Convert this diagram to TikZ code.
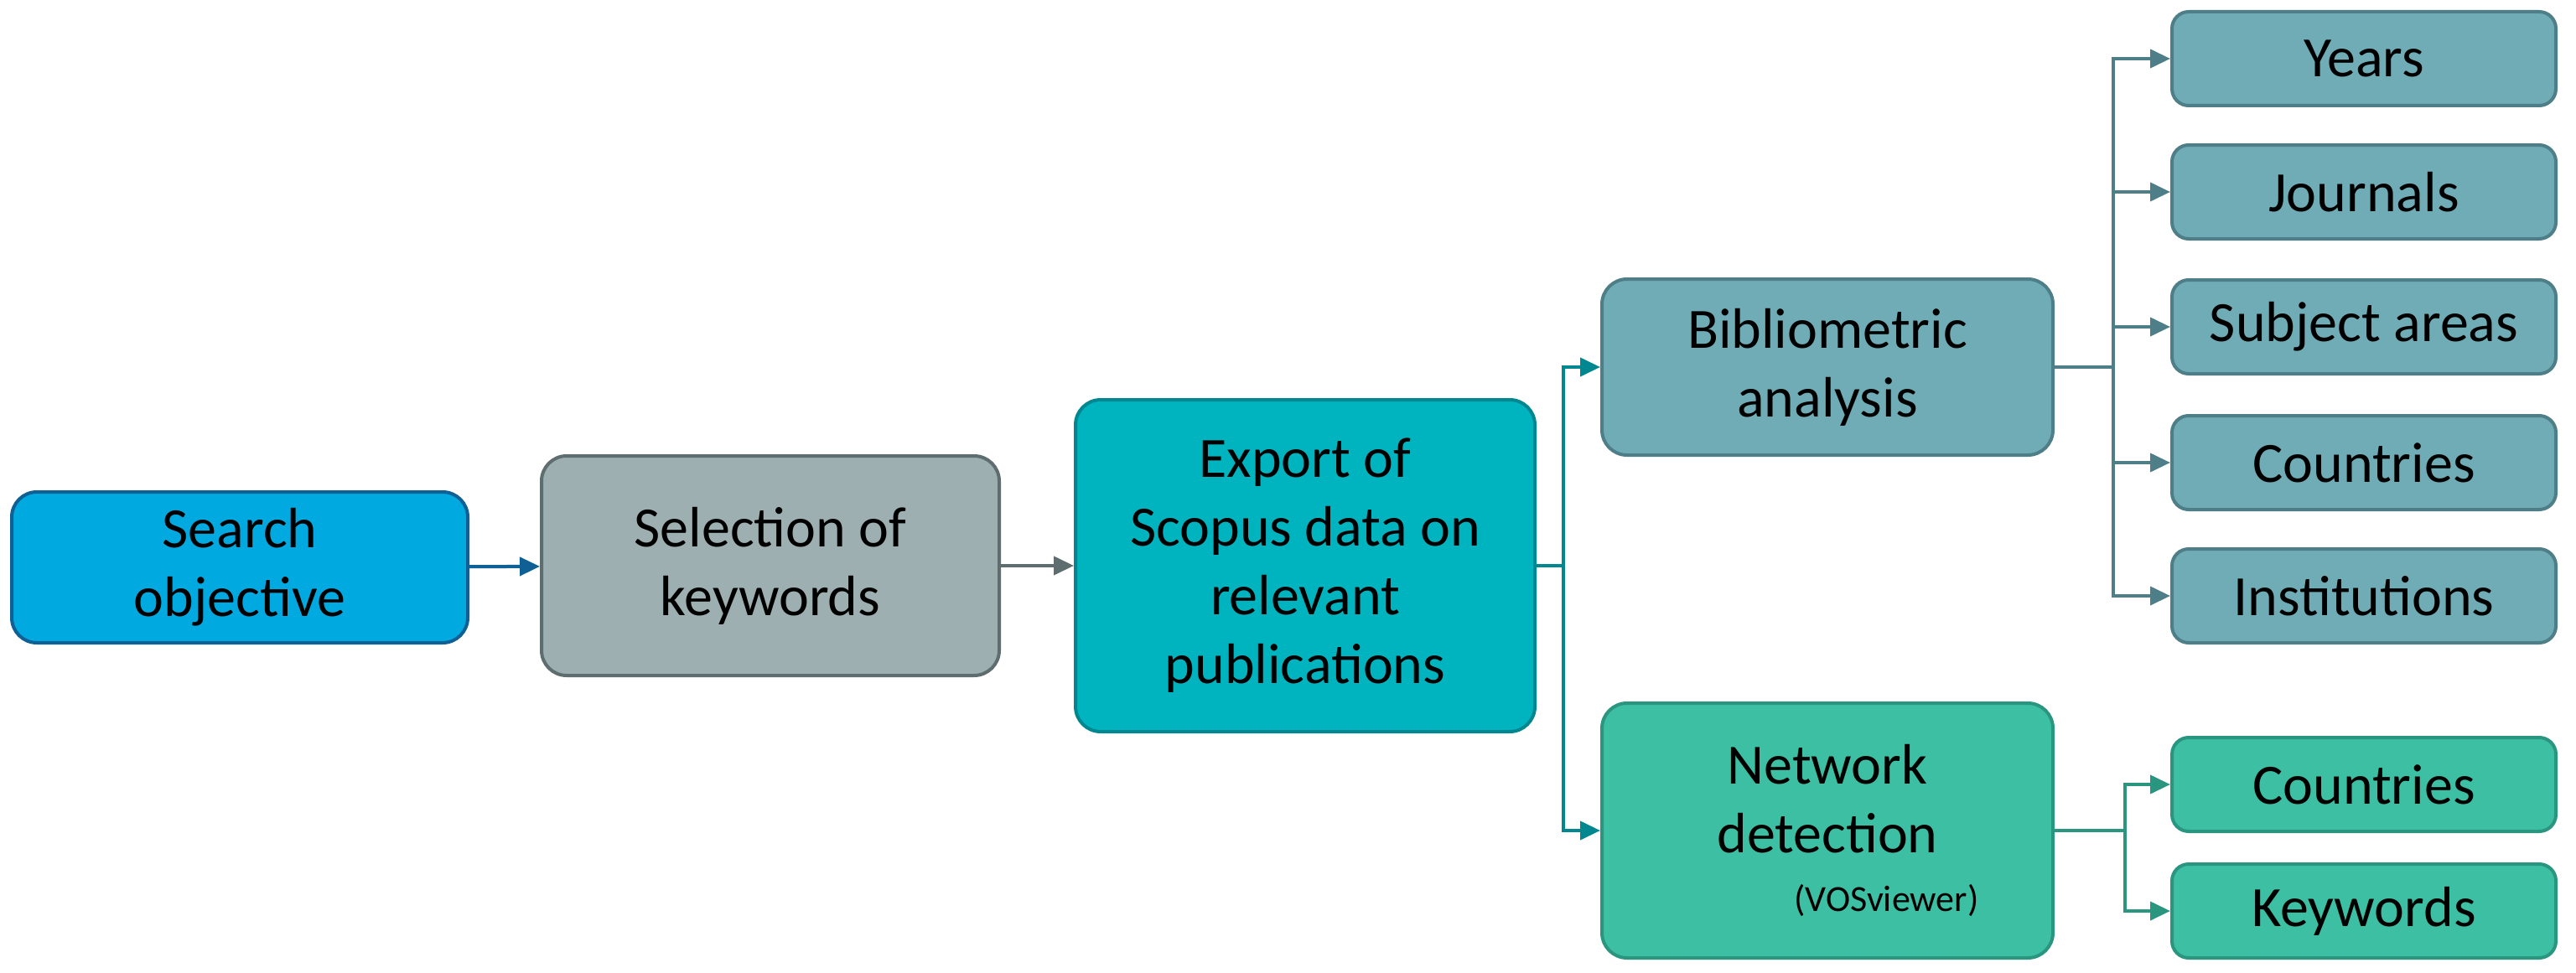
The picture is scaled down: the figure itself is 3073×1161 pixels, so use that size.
\documentclass[tikz,border=0pt]{standalone}
\usepackage{fontspec}
\setmainfont{Carlito}
\usetikzlibrary{arrows.meta}
\definecolor{cSf}{HTML}{00AAE0}\definecolor{cSd}{HTML}{0F6094}
\definecolor{cKf}{HTML}{9DAFB0}\definecolor{cKd}{HTML}{5E6E70}
\definecolor{cEf}{HTML}{00B4BF}\definecolor{cEd}{HTML}{00878F}
\definecolor{cBf}{HTML}{70ACB6}\definecolor{cBd}{HTML}{4E7E87}
\definecolor{cNf}{HTML}{3DBFA3}\definecolor{cNd}{HTML}{2A9680}
\tikzset{
 box/.style={draw, line width=2pt, rounded corners=15pt, align=center, inner sep=0pt,
   font=\fontsize{34}{41}\selectfont, text=black},
 big/.style={box, minimum width=272pt},
 small/.style={box, rounded corners=10pt, minimum width=229pt, minimum height=56pt},
 arr/.style={line width=2pt, -{Triangle[length=12pt,width=11pt]}},
}
\begin{document}
\begin{tikzpicture}[x=0.5pt,y=-0.5pt]
\useasboundingbox (0,0) rectangle (3073,1161);
\node[big, minimum height=90pt, fill=cSf, draw=cSd] (s) at (286,677) {Search\\objective};
\node[box, minimum width=273pt, minimum height=131pt, fill=cKf, draw=cKd] (k) at (919,675) {Selection of\\keywords};
\node[box, minimum width=274pt, minimum height=198pt, fill=cEf, draw=cEd] (e) at (1557,675) {Export of\\Scopus data on\\relevant\\publications};
\node[box, minimum width=269pt, minimum height=105pt, fill=cBf, draw=cBd] (b) at (2180,438) {Bibliometric\\analysis};
\node[box, minimum width=269pt, minimum height=152pt, fill=cNf, draw=cNd] (n) at (2180,991) {Network\\detection\\[-6pt]{\fontsize{22}{26}\selectfont\hspace{3.2em}(VOSviewer)}};
\foreach \nm/\t/\y in {y/Years/70, j/Journals/229, sa/Subject areas/390, c/Countries/552, i/Institutions/711}
  \node[small, fill=cBf, draw=cBd] (\nm) at (2820,\y) {\t};
\node[small, fill=cNf, draw=cNd] (nc) at (2820,936) {Countries};
\node[small, fill=cNf, draw=cNd] (nk) at (2820,1087) {Keywords};
\draw[arr, cSd] (s) -- (k);
\draw[arr, cKd] (k) -- (e);
\coordinate (t1) at (1865,675);
\draw[line width=2pt, cEd] (e.east) -- (t1);
\draw[arr, cEd] (t1) |- (b.west);
\draw[arr, cEd] (t1) |- (n.west);
\coordinate (t2) at (2521,438);
\draw[line width=2pt, cBd] (b.east) -- (t2);
\foreach \nm in {y,j,sa,c,i} \draw[arr, cBd] (t2) |- (\nm.west);
\coordinate (t3) at (2535,991);
\draw[line width=2pt, cNd] (n.east) -- (t3);
\foreach \nm in {nc,nk} \draw[arr, cNd] (t3) |- (\nm.west);
\end{tikzpicture}
\end{document}
